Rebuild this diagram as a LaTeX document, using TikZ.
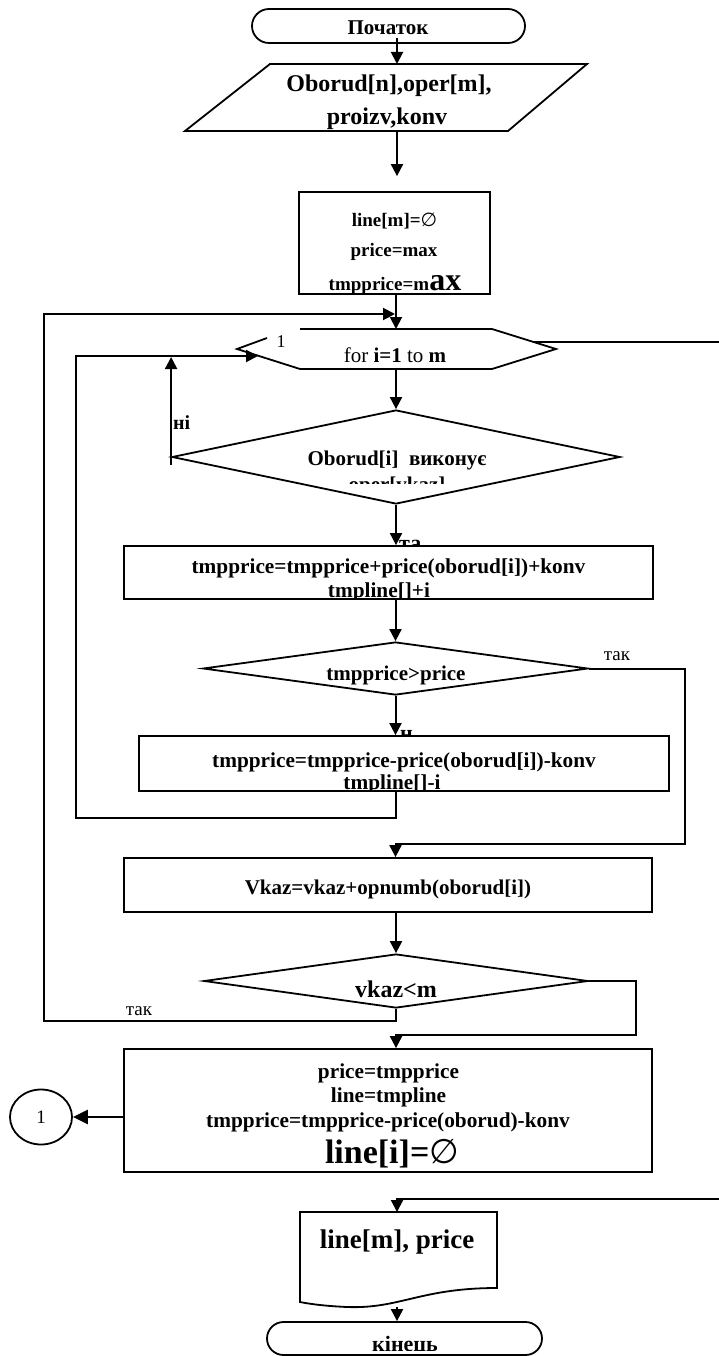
\documentclass[tikz,border=0pt]{standalone}
\usepackage{fontspec}
\setmainfont{Liberation Serif}
\newfontfamily\symfont{DejaVu Sans}
\usetikzlibrary{shapes.geometric,shapes.misc,arrows.meta}
\newcommand\fsz[1]{\fontsize{#1}{#1}\selectfont}
\begin{document}
\begin{tikzpicture}[x=1pt,y=-1pt,
  shp/.style={draw, line width=1.8pt, inner sep=0pt},
  ln/.style={line width=2pt},
  arr/.style={line width=2pt, -{Triangle[length=12pt,width=12pt]}},
  arrb/.style={line width=2.8pt, -{Triangle[length=15pt,width=14pt]}},
  tb/.style={anchor=base, inner sep=0pt},
]
\useasboundingbox (0,0) rectangle (719,1356);

% ---------- shapes ----------
\node[shp, rounded rectangle, minimum width=273pt, minimum height=34pt] (start) at (388.5,26) {};

\coordinate (pTL) at (270,64);
\coordinate (pTR) at (587,64);
\coordinate (pBR) at (508,131);
\coordinate (pBL) at (185,131);
\coordinate (parT) at (397,64);
\coordinate (parB) at (397,131);
\draw[shp] (pTL) -- (pTR) -- (pBR) -- (pBL) -- cycle;

\node[shp, minimum width=191pt, minimum height=102pt] (r1) at (394.5,243) {};

\coordinate (hL) at (237,349);
\coordinate (hTLa) at (267,338);
\coordinate (hTLb) at (300,329);
\coordinate (hTR) at (492,329);
\coordinate (hR) at (556,349);
\coordinate (hBR) at (492,369);
\coordinate (hBL) at (300,369);
\coordinate (hTop) at (396,329);
\coordinate (hBot) at (396,369);
\coordinate (hOut) at (534,342);
\draw[shp] (hTLa) -- (hL) -- (hBL) -- (hBR) -- (hR) -- (hTR) -- (hTLb);

\node[shp, diamond, minimum width=448pt, minimum height=94pt] (d1) at (396,457) {};

% label partly hidden by the next box
\node[tb, anchor=base west, font=\bfseries\fsz{22}] (lblyes1) at (399,550) {та};
\node[shp, fill=white, minimum width=529pt, minimum height=53pt] (r2) at (388.5,572.5) {};

\node[shp, diamond, minimum width=385pt, minimum height=53pt] (d2) at (395.5,668.5) {};

\node[tb, anchor=base west, font=\bfseries\fsz{22}] (lblno2) at (400,740) {н};
\node[shp, fill=white, minimum width=530pt, minimum height=55pt] (r3) at (404,763.5) {};

\node[shp, minimum width=528pt, minimum height=54pt] (r4) at (388,885) {};
\node[shp, diamond, minimum width=384pt, minimum height=54pt] (d3) at (396,981) {};
\node[shp, minimum width=528pt, minimum height=123pt] (r5) at (388,1110.5) {};
\node[shp, ellipse, minimum width=62pt, minimum height=55pt] (c1) at (41,1117) {};

\coordinate (docT) at (397,1212);
\coordinate (docB) at (397,1307);
\draw[shp] (300,1212) -- (497,1212) -- (497,1288)
  .. controls (420,1288) and (400,1309) .. (347,1307)
  .. controls (325,1306) and (310,1304) .. (300,1302) -- cycle;

\node[shp, rounded rectangle, minimum width=275pt, minimum height=33pt] (end) at (404.5,1338.5) {};

% ---------- connectors ----------
\draw[arr] ([yshift=6pt]start.south -| parT) -- (parT);
\draw[arr, shorten >=15pt] (parB) -- (r1.north -| parB);
\draw[arr] (r1.south -| hTop) -- (hTop);
\draw[arr] (hBot) -- (d1.north);

\coordinate (lpB) at (44,1021);
\coordinate (lpC) at (44,314);
\coordinate (lpD) at (396,314);
\draw[arr, shorten >=1pt] (d3.south) |- (lpB) -- (lpC) -- (lpD);

\coordinate (ilA) at (76,818);
\coordinate (ilD) at (258,356);
\draw[arr] ([yshift=-8pt]d1.west) -- ([yshift=-1pt]d1.west |- ilD);
\draw[arr] (d1.south) -- (r2.north -| d1.south);
\draw[arr] (r2.south -| d2.north) -- (d2.north);
\draw[arr] (d2.south) -- (r3.north -| d2.south);
\draw[arr] (r3.south -| d2.south) |- (ilA) |- (ilD);

\coordinate (ra1) at (685,844);
\draw[arr] (d2.east) -| (ra1) -| (r4.north -| d2.south);
\draw[arr] (r4.south -| d3.north) -- (d3.north);

\coordinate (rb1) at (636,1035);
\draw[arr] (d3.east) -| (rb1) -| (r5.north -| d3.south);

\draw[arrb] (c1 -| r5.west) -- (c1.east);

\coordinate (edgeA) at (719,342);
\coordinate (edgeB) at (719,1199);
\draw[ln] (hOut) -- (edgeA);
\draw[arr] (edgeB) -| (docT);
\draw[arr] (docB) -- (end.north -| docB);

% ---------- texts ----------
\node[tb, font=\bfseries\fsz{21}] (tStart) at (388,35) {Початок};
\node[tb, font=\bfseries\fsz{24}] (tIn1) at (389,92) {Oborud[n],oper[m],};
\node[tb, font=\bfseries\fsz{24}] (tIn2) at (387,125) {proizv,konv};

\node[tb, font=\bfseries\fsz{19}] (tR1a) at (394.5,227) {line[m]={\symfont\mdseries ∅}};
\node[tb, font=\bfseries\fsz{19}] (tR1b) at (394,257) {price=max};
\begin{scope}
\clip (290,260) rectangle (500,295);
\node[tb, font=\bfseries\fsz{19}] (tR1c) at (395,290) {tmpprice=m{\fsz{32}ax}};
\end{scope}

\node[tb, font=\fsz{21}] (tFor) at (395,362) {for \textbf{i=1} to \textbf{m}};
\node[tb, font=\fsz{18}] (tOne) at (281,347) {1};
\node[tb, anchor=base west, font=\bfseries\fsz{20}] (tNo1) at (173,429) {ні};

\node[tb, font=\bfseries\fsz{21}] (tD1a) at (397,465) {Oborud[i]\ \ виконує};
\begin{scope}
\clip (250,470) rectangle (550,483);
\node[tb, font=\bfseries\fsz{21}] (tD1b) at (397,491) {oper[vkaz]};
\end{scope}

\node[tb, font=\bfseries\fsz{21.3}] (tR2a) at (388.5,573) {tmpprice=tmpprice+price(oborud[i])+konv};
\begin{scope}
\clip (124,578) rectangle (653,599.5);
\node[tb, font=\bfseries\fsz{21.3}] (tR2b) at (379,597) {tmpline[]+i};
\end{scope}

\node[tb, font=\bfseries\fsz{21}] (tD2) at (396,680) {tmpprice>price};
\node[tb, font=\fsz{19}] (tYes2) at (617,660) {так};

\node[tb, font=\bfseries\fsz{21.3}] (tR3a) at (404,767) {tmpprice=tmpprice-price(oborud[i])-konv};
\begin{scope}
\clip (139,770) rectangle (669,791.5);
\node[tb, font=\bfseries\fsz{21.3}] (tR3b) at (392,789) {tmpline[]-i};
\end{scope}

\node[tb, font=\bfseries\fsz{21}] (tR4) at (388,894) {Vkaz=vkaz+opnumb(oborud[i])};
\node[tb, font=\bfseries\fsz{24}] (tD3) at (396,997) {vkaz<m};
\node[tb, font=\fsz{19}] (tYes3) at (139,1015) {так};

\node[tb, font=\bfseries\fsz{21.3}] (tR5a) at (388.5,1078) {price=tmpprice};
\node[tb, font=\bfseries\fsz{21.3}] (tR5b) at (388.5,1102) {line=tmpline};
\node[tb, font=\bfseries\fsz{21.3}] (tR5c) at (388,1127) {tmpprice=tmpprice-price(oborud)-konv};
\node[tb, font=\bfseries\fsz{34}] (tR5d) at (392,1163) {line[i]={\symfont\mdseries ∅}};

\node[tb, font=\fsz{19}] (tC1) at (41,1123) {1};
\node[tb, font=\bfseries\fsz{27}] (tDoc) at (397,1248) {line[m], price};

\begin{scope}
\clip (267,1320) rectangle (542,1350);
\node[tb, font=\bfseries\fsz{22}] (tEnd) at (405,1351) {кінець};
\end{scope}
\end{tikzpicture}
\end{document}
